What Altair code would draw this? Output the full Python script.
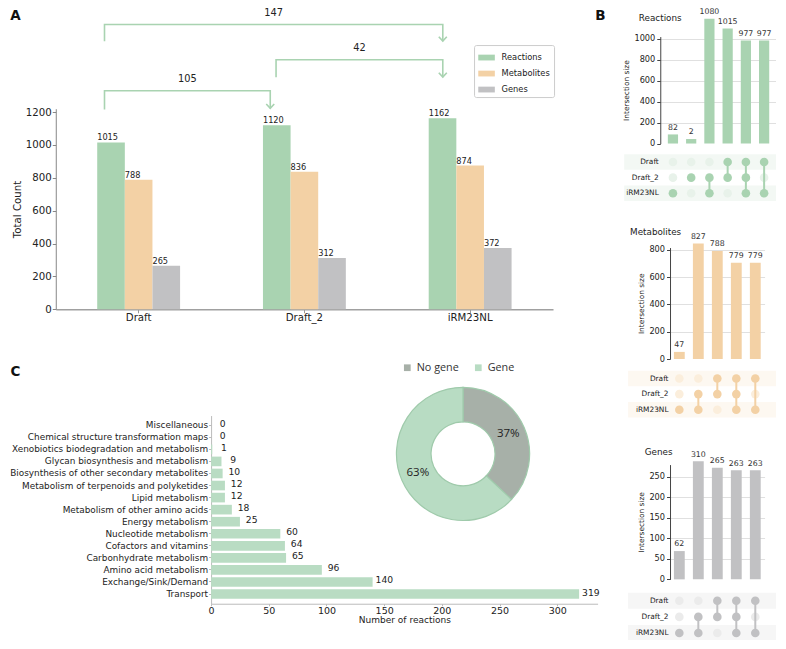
import altair as alt
import pandas as pd

K = 0.975          # page scale (reference px -> chart px)
W, H = 768, 632


def p(v):
    return round(v * K, 2)


FONT = "DejaVu Sans"
PIE_FONT = "Open Sans"
TXT = "#222222"
GREEN = "#a9d3b1"
ORANGE = "#f3d1a5"
GREY = "#c1c1c3"
ARROW = "M-1,-1.1L0,0L1,-1.1"

# ---------------- Panel A data ----------------
models = ["Draft", "Draft_2", "iRM23NL"]
series = ["Reactions", "Metabolites", "Genes"]
reactions_total = [1015, 1120, 1162]
metabolites_total = [788, 836, 874]
genes_total = [265, 312, 372]
series_colors = [GREEN, ORANGE, GREY]

bracket_text = ["147", "42", "105"]
bracket_from = [0.294, 1.329, 0.294]     # in model-group units
bracket_to = [2.335, 2.335, 1.294]
bracket_level = [1732, 1518, 1329]
bracket_foot = [1631, 1412, 1216]
bracket_tip = [1631, 1412, 1222]

# ---------------- Panel B data ----------------
sets = ["Draft", "Draft_2", "iRM23NL"]
striped_sets = ["Draft", "iRM23NL"]
rxn_bar = [87, 43, 1193, 1100, 985, 985]
rxn_text = [82, 2, 1080, 1015, 977, 977]
rxn_members = [["iRM23NL"], ["Draft_2"], ["Draft_2", "iRM23NL"], ["Draft", "Draft_2"],
               ["Draft", "Draft_2", "iRM23NL"], ["Draft", "iRM23NL"]]
met_bar = [52, 845, 790, 705, 705]
met_text = [47, 827, 788, 779, 779]
met_members = [["iRM23NL"], ["Draft_2", "iRM23NL"], ["Draft", "Draft_2"],
               ["Draft", "Draft_2", "iRM23NL"], ["Draft", "iRM23NL"]]
gene_bar = [69, 288, 272, 266, 266]
gene_text = [62, 310, 265, 263, 263]
gene_members = [["iRM23NL"], ["Draft_2", "iRM23NL"], ["Draft", "Draft_2"],
                ["Draft", "Draft_2", "iRM23NL"], ["Draft", "iRM23NL"]]

# ---------------- Panel C data ----------------
subsystems = ["Miscellaneous", "Chemical structure transformation maps",
              "Xenobiotics biodegradation and metabolism", "Glycan biosynthesis and metabolism",
              "Biosynthesis of other secondary metabolites", "Metabolism of terpenoids and polyketides",
              "Lipid metabolism", "Metabolism of other amino acids", "Energy metabolism",
              "Nucleotide metabolism", "Cofactors and vitamins", "Carbonhydrate metabolism",
              "Amino acid metabolism", "Exchange/Sink/Demand", "Transport"]
n_reactions = [0, 0, 1, 9, 10, 12, 12, 18, 25, 60, 64, 65, 96, 140, 319]
gene_cats = ["No gene", "Gene"]
gene_pct = [37, 63]
gene_colors = ["#a7b0a8", "#b8dcc3"]

# =============== Panel A ===============
dfA = pd.DataFrame({
    "model": models * 3,
    "series": [s for s in series for _ in models],
    "count": reactions_total + metabolites_total + genes_total,
})
yA_scale = alt.Scale(domain=[0, 1220], range=[p(309), p(103.3)], nice=False, zero=False)
yA_axis = alt.Axis(orient="left", offset=-p(49), values=[0, 200, 400, 600, 800, 1000, 1200],
                   format="d", labelFontSize=10.2, titleFontSize=10.2, tickSize=3.5, labelPadding=1,
                   titlePadding=3, tickColor="#888", domainColor="#888", grid=False,
                   labelFlush=False, labelOverlap=False)


def yA_enc(field):
    return alt.Y(field, title="Total Count", scale=yA_scale, axis=yA_axis)


xA = alt.X("model:N", sort=models, title=None,
           scale=alt.Scale(type="band", domain=models, range=[p(49), p(559)],
                           paddingInner=0.5, paddingOuter=0.25),
           axis=alt.Axis(orient="bottom", offset=-(H - p(309)), labelAngle=0, labelFontSize=10.2,
                         labelPadding=0, tickSize=3.5, tickColor="#999", domainColor="#a0a0a0",
                         domainWidth=1.3, grid=False))
xoA = alt.XOffset("series:N", sort=series,
                  scale=alt.Scale(domain=series, paddingInner=0, paddingOuter=0))
colA = alt.Color("series:N", sort=series, scale=alt.Scale(domain=series, range=series_colors),
                 legend=alt.Legend(orient="none", legendX=p(478), legendY=p(38), title=None,
                                   symbolType="M-1,-0.35H1V0.35H-1Z", symbolSize=(17 * K) ** 2,
                                   symbolStrokeWidth=0, labelFontSize=8.3, labelOffset=6.5,
                                   padding=4, rowPadding=4, strokeColor="#cccccc",
                                   fillColor="white", cornerRadius=2))
barsA = alt.Chart(dfA).mark_bar().encode(x=xA, y=yA_enc("count:Q"), xOffset=xoA, color=colA)
lblA = alt.Chart(dfA).mark_text(align="left", baseline="bottom", dx=-p(14.2), dy=0,
                                fontSize=8.2, color=TXT).encode(x=xA, y=yA_enc("count:Q"),
                                                                xOffset=xoA, text="count:Q")

rows = []
for i, t in enumerate(bracket_text):
    xs = [bracket_from[i], bracket_from[i], bracket_to[i], bracket_to[i]]
    ys = [bracket_foot[i], bracket_level[i], bracket_level[i], bracket_tip[i]]
    for j in range(4):
        rows.append({"bracket": t, "step": j, "bx": xs[j], "by": ys[j]})
dfBrLine = pd.DataFrame(rows)
dfBrInfo = pd.DataFrame({
    "bracket": bracket_text,
    "bmid": [(a + b) / 2 for a, b in zip(bracket_from, bracket_to)],
    "blevel": bracket_level,
    "bend": bracket_to,
    "btip": bracket_tip,
})
xBr_scale = alt.Scale(domain=[0, 3], range=[p(49), p(559)], nice=False, zero=False)
brLine = alt.Chart(dfBrLine).mark_line(color=GREEN, strokeWidth=1.6).encode(
    x=alt.X("bx:Q", scale=xBr_scale, axis=None),
    y=yA_enc("by:Q"),
    detail="bracket:N", order="step:Q")
brHead = alt.Chart(dfBrInfo).mark_point(shape=ARROW, filled=False, size=64, strokeWidth=1.6,
                                        color=GREEN, opacity=1).encode(
    x=alt.X("bend:Q", scale=xBr_scale, axis=None),
    y=yA_enc("btip:Q"))
brText = alt.Chart(dfBrInfo).mark_text(baseline="middle", dy=-p(12), fontSize=9.8, color=TXT).encode(
    x=alt.X("bmid:Q", scale=xBr_scale, axis=None),
    y=yA_enc("blevel:Q"),
    text="bracket:N")

layerA = alt.layer(alt.layer(barsA, lblA), alt.layer(brLine, brHead, brText)).resolve_scale(x="independent")


# =============== Panel B ===============
def upset_layer(name, bar_vals, text_vals, members, c_on, c_off, c_stripe, x_range, pad_in,
                pad_out, y_dom, y_range, y_ticks, row_range, title_pos, stripe_x0):
    n = len(bar_vals)
    cols = list(range(n))
    dfb = pd.DataFrame({"col": cols, "size": bar_vals, "label": [str(v) for v in text_vals]})
    mrows = []
    for c, mem in enumerate(members):
        for r, s in enumerate(sets):
            mrows.append({"col": c, "set": s, "ridx": r, "active": s in mem,
                          "striped": s in striped_sets})
    dfm = pd.DataFrame(mrows)
    x = alt.X("col:O", title=None,
              scale=alt.Scale(type="band", domain=cols, range=[p(x_range[0]), p(x_range[1])],
                              paddingInner=pad_in, paddingOuter=pad_out), axis=None)
    y = alt.Y("size:Q", title="Intersection size",
              scale=alt.Scale(domain=y_dom, range=[p(y_range[0]), p(y_range[1])], nice=False, zero=False),
              axis=alt.Axis(orient="left", offset=-p(x_range[0]), values=y_ticks, format="d", grid=True,
                            gridColor="#e0e0e0", gridWidth=1,
                            gridOpacity={"condition": {"test": "datum.value === 0", "value": 0}, "value": 1},
                            tickSize=3.5, labelPadding=2, labelFontSize=8.2, titleFontSize=7.4,
                            titlePadding=3, domainColor="#444", tickColor="#444",
                            labelFlush=False, labelOverlap=False))
    bars = alt.Chart(dfb).mark_bar(color=c_on).encode(x=x, y=y)
    lbls = alt.Chart(dfb).mark_text(baseline="middle", dy=-p(6.8), fontSize=7.8, color="#333").encode(
        x=x, y=y, text="label:N")
    ym = alt.Y("set:N", sort=sets, title=None,
               scale=alt.Scale(type="band", domain=sets, range=[p(row_range[0]), p(row_range[1])],
                               paddingInner=0, paddingOuter=0),
               axis=alt.Axis(orient="left", offset=-p(x_range[0]), domain=False, ticks=False,
                             labelPadding=2, labelFontSize=7.4, grid=False))
    stripes = alt.Chart(dfm).transform_filter("datum.col == 0 && datum.striped").mark_rect(
        color=c_stripe).encode(y=ym, x=alt.value(p(stripe_x0)), x2=alt.value(p(792)))
    dots_off = alt.Chart(dfm).transform_filter("!datum.active").mark_circle(
        size=74, color=c_off, opacity=1).encode(x=x, y=ym)
    links = alt.Chart(dfm).transform_filter("datum.active").mark_line(
        color=c_on, strokeWidth=2).encode(x=x, y=ym, detail="col:O", order="ridx:Q")
    dots_on = alt.Chart(dfm).transform_filter("datum.active").mark_circle(
        size=74, color=c_on, opacity=1).encode(x=x, y=ym)
    title = alt.Chart(pd.DataFrame({"t": [name]})).mark_text(
        align="left", baseline="middle", fontSize=8.8, color=TXT).encode(
        text="t:N", x=alt.value(p(title_pos[0])), y=alt.value(p(title_pos[1])))
    return alt.layer(alt.layer(bars, lbls), alt.layer(stripes, dots_off, links, dots_on),
                     title).resolve_scale(y="independent")


layerB1 = upset_layer("Reactions", rxn_bar, rxn_text, rxn_members, GREEN, "#e8f2ea", "#f3f8f4",
                      [669, 788.5], 0.44, 0.415, [0, 1022], [139, 29.3],
                      [0, 200, 400, 600, 800, 1000], [150, 198], [647, 10.5], 632)
layerB2 = upset_layer("Metabolites", met_bar, met_text, met_members, ORANGE, "#fbeedc", "#fdf8f1",
                      [679, 776], 0.43, 0.205, [0, 816], [360, 245.7],
                      [0, 200, 400, 600, 800], [372, 420], [638, 229.5], 636)
layerB3 = upset_layer("Genes", gene_bar, gene_text, gene_members, GREY, "#ebebeb", "#f6f6f6",
                      [679, 776], 0.43, 0.205, [0, 280], [586, 468.3],
                      [0, 50, 100, 150, 200, 250], [599.75, 649.25], [653, 455], 636)

# =============== Panel C ===============
dfC = pd.DataFrame({"subsystem": subsystems, "n": n_reactions})
yC = alt.Y("subsystem:N", sort=subsystems, title=None,
           scale=alt.Scale(type="band", domain=subsystems, range=[p(418), p(611)],
                           paddingInner=0.2, paddingOuter=0.405),
           axis=alt.Axis(orient="left", offset=-p(208.3), labelFontSize=8.9, tickSize=2.5,
                         labelPadding=1, domainColor="#bbbbbb", tickColor="#bbbbbb",
                         labelLimit=400, grid=False))
xC = alt.X("n:Q", title="Number of reactions",
           scale=alt.Scale(domain=[0, 335], range=[p(208.3), p(604.7)], nice=False, zero=False),
           axis=alt.Axis(orient="bottom", offset=-(H - p(611)), values=[0, 50, 100, 150, 200, 250, 300],
                         labelFontSize=9.5, titleFontSize=9, tickSize=2, labelPadding=0,
                         titlePadding=0, domainColor="#bbbbbb", tickColor="#bbbbbb", grid=False,
                         labelFlush=False, labelOverlap=False))
barsC = alt.Chart(dfC).mark_bar(color="#b9dcc3").encode(x=xC, y=yC)
lblC = alt.Chart(dfC).mark_text(align="center", baseline="middle", dx=p(12), dy=-1.5,
                                fontSize=9.2, color=TXT).encode(x=xC, y=yC, text="n:Q")

dfD = pd.DataFrame({"cat": gene_cats, "pct": gene_pct, "idx": list(range(len(gene_cats))),
                    "label": [f"{v}%" for v in gene_pct]})
cx, cy = p(466.7), p(457.3)
arc = alt.Chart(dfD).mark_arc(outerRadius=p(68.3), innerRadius=p(32.8), stroke="#9fcaab",
                              strokeWidth=1.2).encode(
    theta=alt.Theta("pct:Q", stack=True),
    order=alt.Order("idx:Q"),
    color=alt.Color("cat:N", sort=gene_cats, scale=alt.Scale(domain=gene_cats, range=gene_colors),
                    legend=alt.Legend(orient="none", direction="horizontal", legendX=p(404),
                                      legendY=p(363), title=None, symbolType="square",
                                      symbolSize=45, symbolStrokeWidth=0, labelFont=PIE_FONT,
                                      labelFontSize=10.8, labelOffset=4, columnPadding=14,
                                      padding=0, labelColor="#333")),
    x=alt.value(cx), y=alt.value(cy))
pctText = alt.Chart(dfD).mark_text(radius=p(50.5), font=PIE_FONT, fontSize=11.5, color=TXT).encode(
    theta=alt.Theta("pct:Q", stack=True), order=alt.Order("idx:Q"), text="label:N",
    x=alt.value(cx), y=alt.value(cy))

layerC = alt.layer(barsC, lblC, arc, pctText)


# =============== Panel letters ===============
def letter(ch, x, y):
    return alt.Chart(pd.DataFrame({"t": [ch]})).mark_text(
        fontSize=13.5, fontWeight="bold", color="#111", align="center", baseline="middle").encode(
        text="t:N", x=alt.value(p(x)), y=alt.value(p(y)))


chart = alt.layer(
    layerA, layerB1, layerB2, layerB3, layerC,
    letter("A", 7.7, 8), letter("B", 607.5, 8), letter("C", 7.7, 373),
).resolve_scale(
    x="independent", y="independent", color="independent", xOffset="independent", theta="independent"
).properties(
    width=W, height=H, padding=0, autosize=alt.AutoSizeParams(type="none")
).configure_view(stroke=None).configure_axis(
    labelFont=FONT, titleFont=FONT, labelColor=TXT, titleColor=TXT, titleFontWeight="normal"
).configure_legend(labelFont=FONT, labelColor=TXT).configure_text(font=FONT)

chart.save("out.html", embed_options={"renderer": "svg", "actions": False})
